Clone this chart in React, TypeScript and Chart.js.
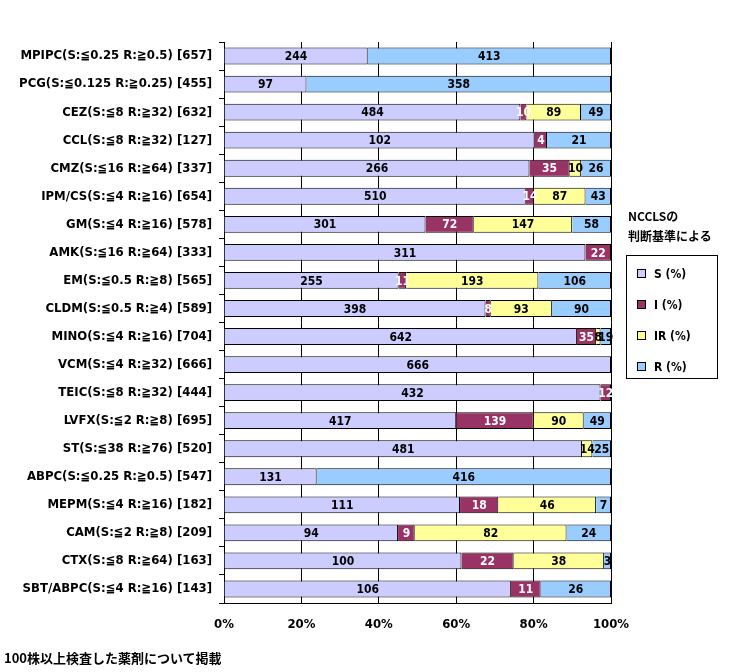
import React, { useEffect, useRef } from "react";
import { Chart, registerables } from "chart.js";
Chart.register(...registerables);

const categories = [
  "MPIPC(S:≦0.25 R:≧0.5) [657]", "PCG(S:≦0.125 R:≧0.25) [455]", "CEZ(S:≦8 R:≧32) [632]",
  "CCL(S:≦8 R:≧32) [127]", "CMZ(S:≦16 R:≧64) [337]", "IPM/CS(S:≦4 R:≧16) [654]",
  "GM(S:≦4 R:≧16) [578]", "AMK(S:≦16 R:≧64) [333]", "EM(S:≦0.5 R:≧8) [565]",
  "CLDM(S:≦0.5 R:≧4) [589]", "MINO(S:≦4 R:≧16) [704]", "VCM(S:≦4 R:≧32) [666]",
  "TEIC(S:≦8 R:≧32) [444]", "LVFX(S:≦2 R:≧8) [695]", "ST(S:≦38 R:≧76) [520]",
  "ABPC(S:≦0.25 R:≧0.5) [547]", "MEPM(S:≦4 R:≧16) [182]", "CAM(S:≦2 R:≧8) [209]",
  "CTX(S:≦8 R:≧64) [163]", "SBT/ABPC(S:≦4 R:≧16) [143]",
];
const sVals = [244, 97, 484, 102, 266, 510, 301, 311, 255, 398, 642, 666, 432, 417, 481, 131, 111, 94, 100, 106];
const iVals = [0, 0, 10, 4, 35, 14, 72, 22, 11, 8, 35, 0, 12, 139, 0, 0, 18, 9, 22, 11];
const irVals = [0, 0, 89, 0, 10, 87, 147, 0, 193, 93, 8, 0, 0, 90, 14, 0, 46, 82, 38, 0];
const rVals = [413, 358, 49, 21, 26, 43, 58, 0, 106, 90, 19, 0, 0, 49, 25, 416, 7, 24, 3, 26];
const seriesNames = ["S (%)", "I (%)", "IR (%)", "R (%)"];
const colors = ["#ccccff", "#993366", "#ffff99", "#99ccff"];
const textColors = ["#000", "#fff", "#000", "#000"];
const xTicks = ["0%", "20%", "40%", "60%", "80%", "100%"];

const FONT = "'Liberation Sans Narrow', 'DejaVu Sans Condensed', sans-serif";

export default function App() {
  const ref = useRef<HTMLCanvasElement>(null);
  useEffect(() => {
    const series = [sVals, iVals, irVals, rVals];
    const totals = sVals.map((_, i) => series.reduce((a, s) => a + s[i], 0));
    const labelPlugin = {
      id: "lbl",
      afterDatasetsDraw(chart: any) {
        const ctx = chart.ctx;
        ctx.save();
        ctx.font = `bold 12px ${FONT}`;
        ctx.textAlign = "center";
        ctx.textBaseline = "middle";
        chart.data.datasets.forEach((ds: any, di: number) => {
          const meta = chart.getDatasetMeta(di);
          meta.data.forEach((el: any, i: number) => {
            const v = series[di][i];
            if (!v) return;
            const x = (el.x + el.base) / 2;
            ctx.fillStyle = textColors[di];
            ctx.fillText(String(v), x, el.y + 1);
          });
        });
        ctx.restore();
      },
    };
    const chart = new Chart(ref.current!, {
      type: "bar",
      data: {
        labels: categories,
        datasets: series.map((s, di) => ({
          label: seriesNames[di],
          data: s.map((v, i) => (v / totals[i]) * 100),
          backgroundColor: colors[di],
          borderColor: "#000",
          borderWidth: 1,
          barPercentage: 0.6,
          categoryPercentage: 1,
        })),
      },
      options: {
        indexAxis: "y",
        animation: false,
        responsive: false,
        layout: { padding: { top: 42, right: 127, bottom: 0, left: 0 } },
        plugins: { legend: { display: false }, tooltip: { enabled: false } },
        scales: {
          x: {
            stacked: true, min: 0, max: 100,
            afterFit: (s: any) => { s.height = 69; },
            ticks: { stepSize: 20, padding: 14, color: "#000", font: { family: FONT, size: 13, weight: "bold" },
              callback: (_v: any, i: number) => xTicks[i] },
            grid: { color: "#000", lineWidth: 1, drawTicks: false },
            border: { color: "#000", width: 1 },
          },
          y: {
            stacked: true,
            afterFit: (s: any) => { s.width = 224; },
            ticks: { color: "#000", padding: 7, font: { family: FONT, size: 13, weight: "bold" } },
            grid: { drawOnChartArea: false, offset: true, tickLength: 5, color: "#000" },
            border: { color: "#000", width: 1 },
          },
        },
      },
      plugins: [labelPlugin],
    } as any);
    return () => chart.destroy();
  }, []);
  const lg: React.CSSProperties = { display: "flex", alignItems: "center", height: 31, fontSize: 12 };
  const sw = (c: string): React.CSSProperties => ({ width: 7, height: 7, background: c, border: "1px solid #000", marginRight: 8 });
  return (
    <div style={{ position: "absolute", left: 0, top: 0, width: 738, height: 672, background: "#fff", fontFamily: FONT }}>
      <canvas ref={ref} width={738} height={672} style={{ position: "absolute", left: 0, top: 0 }} />
      <div style={{ position: "absolute", left: 628, top: 206, fontSize: 12, fontWeight: "bold", lineHeight: "20px", fontFamily: "'Noto Sans CJK JP', sans-serif" }}>
        NCCLSの<br />判断基準による
      </div>
      <div style={{ position: "absolute", left: 626, top: 255, width: 92, height: 124, border: "1px solid #000", padding: "2px 0 0 10px", boxSizing: "border-box", fontWeight: "bold" }}>
        {seriesNames.map((n, i) => (
          <div key={n} style={lg}><span style={sw(colors[i])} />{n}</div>
        ))}
      </div>
      <div style={{ position: "absolute", left: 4, top: 648, fontSize: 13, fontWeight: "bold", fontFamily: "'Noto Sans CJK JP', sans-serif" }}>
        100株以上検査した薬剤について掲載
      </div>
    </div>
  );
}
